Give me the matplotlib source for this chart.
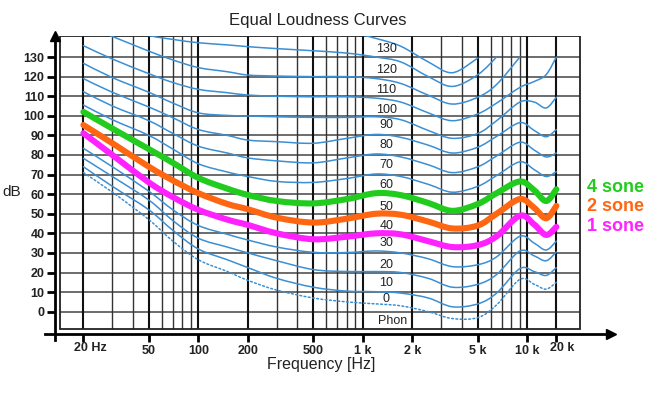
import numpy as np
import matplotlib
matplotlib.use("Agg")
import matplotlib.pyplot as plt
from matplotlib.patches import Rectangle, PathPatch
from matplotlib.path import Path
from matplotlib.ticker import NullLocator

plt.rcParams['font.family'] = ['Liberation Sans', 'DejaVu Sans']

# === Curve data (frequency in Hz, level in dB) ===
FREQ = [20, 30, 50, 70, 100, 150, 200, 300, 500, 800, 1200, 1700,
        2500, 3500, 5000, 6500, 9000, 11000, 13000, 15000]

threshold = [71, 61, 47, 36, 26.5, 20.5, 16, 11, 7, 5, 4, 3, 0, -3.5, -3, 3.5, 16.5, 14, 11.5, 15]
phon_10 = [74, 64, 52, 41.5, 32, 26.5, 22.5, 17, 12.5, 10.5, 10.2, 9.5, 7, 2.5, 4, 9.5, 22, 20.5, 18.5, 22.5]
phon_20 = [78.3, 69, 57, 46.5, 37.5, 33, 30, 26, 21.5, 20.5, 20.5, 20, 17, 12.5, 14, 19, 31, 28.5, 26, 30.5]
phon_30 = [83.4, 74, 61.5, 52, 44, 39.5, 36.6, 33, 30.3, 30.2, 31, 30, 27, 23, 24, 28, 38.5, 35, 31.5, 36]
sone_1 = [91.1, 80, 66, 58.5, 52, 47, 44.3, 40, 37, 38.3, 40, 39.5, 36, 33, 34, 38.5, 49, 44.5, 39.2, 43.3]
sone_2 = [95.3, 86, 74, 67, 60.5, 55, 52.3, 48, 45.5, 47.5, 50, 49.5, 46, 42.5, 44, 50, 57.5, 53, 47.7, 54]
sone_4 = [102, 93.5, 83, 76, 68.3, 62.8, 59.6, 56.5, 55.3, 57.5, 60.5, 59.5, 55.5, 51.5, 55, 60.5, 66.5, 62, 56.5, 62.5]
phon_70 = [105.5, 98, 90, 83, 75.5, 71.3, 69, 66.5, 66, 68, 70.3, 69, 65, 61, 64, 69.5, 76.5, 72.5, 69, 71.5]
phon_80 = [112.3, 105, 97.5, 91, 84.5, 81, 78.5, 77, 76, 78.5, 80.5, 79, 75, 71, 74, 79.5, 86.5, 82.5, 79, 81]
phon_90 = [119, 112, 104.5, 99, 93, 90, 87.6, 86.8, 86, 88.5, 90.5, 89, 85, 81, 84, 89.5, 96.5, 92.5, 89.3, 93]
phon_100 = [126.8, 119.5, 112, 106.5, 101.5, 100.2, 99.9, 99.5, 99.2, 99.2, 99.5, 98, 92.5, 88.5, 91, 97.5, 107, 107, 104, 109.5]
phon_110 = [135.8, 129, 121.5, 117, 113.5, 111.8, 110.6, 110, 109.7, 109.7, 109, 107, 101.5, 97.5, 101, 106.5, 114.5, 117.5, 121, 130]
phon_120 = [146, 140.5, 133, 128.5, 124.6, 122.5, 120.8, 120.3, 120, 120, 119, 116.5, 110.5, 106, 109.5, 116, 130, None, None, None]
phon_130 = [None, 146, 141, 139, 137.3, 136.2, 135.3, 134.3, 133.2, 132, 130, 127.5, 120, 115, 121, 130, None, None, None, None]
phon_140 = [None, None, None, None, None, None, None, None, 146, 143, 139.5, 135.5, 127.5, 122, 129.5, None, None, None, None, None]

BLUE_CURVES = [phon_10, phon_20, phon_30, phon_70, phon_80, phon_90,
               phon_100, phon_110, phon_120, phon_130, phon_140]

# phon numbers written next to the curves
PHON_LABELS = ['130', '120', '110', '100', '90', '80', '70', '60', '50', '40', '30', '20', '10', '0']
PHON_LABEL_Y = [134.2, 123.6, 113.4, 103.2, 95.5, 84.9, 74.9, 64.8, 53.2, 44.0, 35.3, 23.7, 14.7, 6.6]

# axis ticks ("20 k" sits on the last grid line of the original chart)
X_TICKS = [20, 50, 100, 200, 500, 1000, 2000, 5000, 10000, 15000]
X_TICK_LABELS = ['', '50', '100', '200', '500', '1 k', '2 k', '5 k', '10 k', '']
Y_TICKS = list(range(0, 131, 10))

GRID_MAJOR = [20, 50, 100, 200, 500, 1000, 2000, 5000, 10000, 15000]
GRID_MINOR = [30, 40, 60, 70, 80, 90, 300, 400, 600, 700, 800, 900,
              3000, 4000, 6000, 7000, 8000, 9000]

BLUE = '#3b8fd3'
GREEN = '#22cc1f'
ORANGE = '#ff6611'
MAGENTA = '#ff22ff'

# === Figure ===
fig = plt.figure(figsize=(6.5, 3.94), dpi=100)
ax = fig.add_axes([55 / 650, (394 - 333.7) / 394, (611 - 55) / 650, (333.7 - 36) / 394])
ax.set_xscale('log')
ax.set_xlim(13.44, 32230)
ax.set_ylim(-11.23, 140.74)

# inner frame + grid
x0, x1, y0, y1 = 14.41, 20880, -8.83, 140.74
frame = Rectangle((x0, y0), x1 - x0, y1 - y0, fill=False, edgecolor='#222', lw=1.3, zorder=2)
ax.add_patch(frame)
ax.hlines(Y_TICKS, x0, x1, color='#444', lw=1.1, zorder=1)
ax.vlines(GRID_MINOR, y0, y1, color='#333', lw=1.0, zorder=1)
ax.vlines(GRID_MAJOR, y0, y1, color='#111', lw=1.5, zorder=1)


def smooth_curve(levels, **kw):
    # smooth line through the read points (Catmull-Rom drawn as Bezier, in log-f space)
    lx = np.log10(np.array(FREQ, dtype=float))
    y = np.array([np.nan if v is None else v for v in levels], dtype=float)
    ok = ~np.isnan(y)
    px, py = lx[ok], y[ok]
    n = len(px)
    verts, codes = [(10 ** px[0], py[0])], [Path.MOVETO]
    for i in range(n - 1):
        a = max(i - 1, 0)
        b = min(i + 2, n - 1)
        c1x = px[i] + (px[i + 1] - px[a]) / 6
        c1y = py[i] + (py[i + 1] - py[a]) / 6
        c2x = px[i + 1] - (px[b] - px[i]) / 6
        c2y = py[i + 1] - (py[b] - py[i]) / 6
        verts += [(10 ** c1x, c1y), (10 ** c2x, c2y), (10 ** px[i + 1], py[i + 1])]
        codes += [Path.CURVE4] * 3
    patch = PathPatch(Path(verts, codes), fill=False, capstyle='round', joinstyle='round', **kw)
    ax.add_patch(patch)
    patch.set_clip_path(frame)


for lv in BLUE_CURVES:
    smooth_curve(lv, edgecolor=BLUE, lw=1.1, zorder=3)
smooth_curve(threshold, edgecolor=BLUE, lw=1.1, ls=(0, (1.2, 1.6)), zorder=3)
smooth_curve(sone_1, edgecolor=MAGENTA, lw=4.4, zorder=4)
smooth_curve(sone_2, edgecolor=ORANGE, lw=4.4, zorder=4)
smooth_curve(sone_4, edgecolor=GREEN, lw=4.4, zorder=4)

for lab, y in zip(PHON_LABELS, PHON_LABEL_Y):
    ax.text(1390, y, lab, ha='center', va='center', fontsize=9, color='#222', zorder=5)
ax.text(1520, -4.6, 'Phon', ha='center', va='center', fontsize=9, color='#222', zorder=5)

# axes with arrows
for side in ['top', 'right']:
    ax.spines[side].set_visible(False)
for side in ['left', 'bottom']:
    ax.spines[side].set_linewidth(2)
ax.plot(0, 1, marker='^', color='k', ms=7, transform=ax.transAxes, clip_on=False)
ax.plot(1, 0, marker='>', color='k', ms=7, transform=ax.transAxes, clip_on=False)
ax.plot([-10 / 556, 0], [0, 0], color='k', lw=2, transform=ax.transAxes, clip_on=False)
ax.plot([0, 0], [-6 / 297.7, 0], color='k', lw=2, transform=ax.transAxes, clip_on=False)

ax.set_yticks(Y_TICKS)
ax.set_xticks(X_TICKS, X_TICK_LABELS)
ax.xaxis.set_minor_locator(NullLocator())
ax.tick_params(axis='both', length=6, width=2, color='k', labelsize=9, labelcolor='#222')
ax.tick_params(axis='y', pad=1.5)
ax.tick_params(axis='x', pad=2)
for lbl in ax.get_xticklabels() + ax.get_yticklabels():
    lbl.set_fontweight('bold')
ax.annotate('20 Hz', xy=(20, 0), xycoords=('data', 'axes fraction'),
            xytext=(-9, -8.5), textcoords='offset pixels', ha='left', va='top',
            fontsize=9, fontweight='bold', color='#222', annotation_clip=False)
ax.annotate('20 k', xy=(15000, 0), xycoords=('data', 'axes fraction'),
            xytext=(6, -8.5), textcoords='offset pixels', ha='center', va='top',
            fontsize=9, fontweight='bold', color='#222', annotation_clip=False)

fig.text(318 / 650, 1 - 20 / 394, 'Equal Loudness Curves', ha='center', va='center', fontsize=12, color='#222')
fig.text(12 / 650, 1 - 192.5 / 394, 'dB', ha='center', va='center', fontsize=11, color='#222')
fig.text(321 / 650, 1 - 365 / 394, 'Frequency [Hz]', ha='center', va='center', fontsize=11.5, color='#222')

fig.text(587 / 650, 1 - 187.3 / 394, '4 sone', ha='left', va='center', fontsize=13, fontweight='bold', color=GREEN)
fig.text(587 / 650, 1 - 206.7 / 394, '2 sone', ha='left', va='center', fontsize=13, fontweight='bold', color=ORANGE)
fig.text(587 / 650, 1 - 226 / 394, '1 sone', ha='left', va='center', fontsize=13, fontweight='bold', color=MAGENTA)

fig.savefig('out.png', dpi=100)
